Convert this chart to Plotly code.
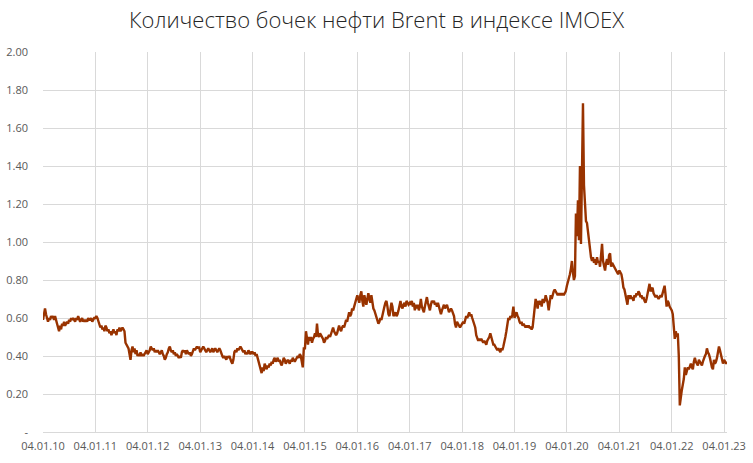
import pandas as pd
import plotly.graph_objects as go

title_text = "Количество бочек нефти Brent в индексе IMOEX"

# weekly readings of the ratio, one list per year (weeks counted from 4 January)
y2010 = [0.59, 0.63, 0.65, 0.62, 0.59, 0.58, 0.60, 0.59, 0.61, 0.60, 0.61, 0.59,
         0.61, 0.58, 0.57, 0.55, 0.53, 0.56, 0.54, 0.57, 0.56, 0.58, 0.56, 0.57,
         0.58, 0.57, 0.59, 0.58, 0.60, 0.59, 0.60, 0.59, 0.58, 0.60, 0.59, 0.61,
         0.59, 0.58, 0.59, 0.60, 0.58, 0.59, 0.58, 0.59, 0.58, 0.60, 0.59, 0.59,
         0.60, 0.58, 0.59, 0.60]
y2011 = [0.60, 0.61, 0.60, 0.58, 0.57, 0.55, 0.56, 0.54, 0.55, 0.53, 0.56, 0.55,
         0.53, 0.54, 0.52, 0.53, 0.51, 0.53, 0.54, 0.52, 0.53, 0.51, 0.54, 0.53,
         0.55, 0.53, 0.54, 0.55, 0.54, 0.53, 0.47, 0.46, 0.45, 0.44, 0.41, 0.38,
         0.43, 0.45, 0.42, 0.44, 0.41, 0.43, 0.40, 0.41, 0.40, 0.42, 0.40, 0.41,
         0.40, 0.41, 0.42, 0.43]
y2012 = [0.41, 0.42, 0.43, 0.45, 0.44, 0.43, 0.44, 0.42, 0.43, 0.42, 0.43, 0.42,
         0.41, 0.42, 0.43, 0.41, 0.40, 0.38, 0.39, 0.41, 0.42, 0.44, 0.45, 0.43,
         0.42, 0.43, 0.41, 0.42, 0.40, 0.41, 0.40, 0.39, 0.40, 0.39, 0.42, 0.43,
         0.42, 0.43, 0.41, 0.43, 0.42, 0.41, 0.42, 0.40, 0.41, 0.43, 0.44, 0.43,
         0.44, 0.45, 0.44, 0.45]
y2013 = [0.42, 0.43, 0.44, 0.45, 0.44, 0.43, 0.42, 0.43, 0.44, 0.43, 0.42, 0.43,
         0.44, 0.42, 0.43, 0.44, 0.43, 0.42, 0.43, 0.44, 0.43, 0.41, 0.40, 0.39,
         0.40, 0.39, 0.38, 0.40, 0.39, 0.40, 0.38, 0.37, 0.36, 0.38, 0.42, 0.43,
         0.42, 0.44, 0.43, 0.44, 0.45, 0.44, 0.43, 0.42, 0.43, 0.41, 0.42, 0.41,
         0.43, 0.42, 0.41, 0.42]
y2014 = [0.42, 0.41, 0.42, 0.40, 0.41, 0.39, 0.37, 0.35, 0.33, 0.31, 0.34, 0.32,
         0.36, 0.34, 0.33, 0.35, 0.34, 0.36, 0.35, 0.37, 0.36, 0.38, 0.39, 0.37,
         0.38, 0.39, 0.37, 0.38, 0.36, 0.35, 0.37, 0.39, 0.38, 0.36, 0.37, 0.38,
         0.37, 0.36, 0.38, 0.37, 0.39, 0.38, 0.37, 0.38, 0.39, 0.40, 0.39, 0.41,
         0.40, 0.36, 0.34, 0.44]
y2015 = [0.44, 0.53, 0.50, 0.46, 0.50, 0.48, 0.50, 0.47, 0.49, 0.50, 0.52, 0.50,
         0.57, 0.51, 0.50, 0.52, 0.51, 0.50, 0.49, 0.47, 0.48, 0.50, 0.49, 0.50,
         0.51, 0.50, 0.52, 0.53, 0.55, 0.53, 0.52, 0.51, 0.52, 0.54, 0.56, 0.54,
         0.53, 0.55, 0.56, 0.55, 0.57, 0.59, 0.58, 0.60, 0.63, 0.61, 0.62, 0.65,
         0.64, 0.66, 0.68, 0.71]
y2016 = [0.72, 0.70, 0.68, 0.72, 0.74, 0.69, 0.66, 0.72, 0.70, 0.67, 0.70, 0.73,
         0.70, 0.68, 0.72, 0.67, 0.65, 0.64, 0.62, 0.60, 0.58, 0.57, 0.58, 0.60,
         0.59, 0.62, 0.63, 0.66, 0.68, 0.69, 0.66, 0.62, 0.61, 0.64, 0.68, 0.66,
         0.61, 0.62, 0.63, 0.61, 0.62, 0.64, 0.68, 0.69, 0.66, 0.65, 0.67, 0.68,
         0.66, 0.69, 0.68, 0.67]
y2017 = [0.68, 0.67, 0.69, 0.66, 0.68, 0.64, 0.67, 0.65, 0.67, 0.64, 0.66, 0.70,
         0.66, 0.64, 0.63, 0.66, 0.70, 0.71, 0.68, 0.65, 0.64, 0.67, 0.69, 0.68,
         0.69, 0.67, 0.68, 0.66, 0.68, 0.66, 0.63, 0.62, 0.64, 0.66, 0.67, 0.65,
         0.66, 0.67, 0.65, 0.63, 0.64, 0.65, 0.64, 0.62, 0.61, 0.57, 0.55, 0.58,
         0.57, 0.56, 0.55, 0.56]
y2018 = [0.57, 0.58, 0.57, 0.59, 0.61, 0.60, 0.62, 0.63, 0.61, 0.62, 0.60, 0.58,
         0.56, 0.55, 0.51, 0.49, 0.48, 0.49, 0.48, 0.49, 0.48, 0.47, 0.48, 0.47,
         0.46, 0.48, 0.49, 0.50, 0.52, 0.50, 0.47, 0.46, 0.46, 0.45, 0.44, 0.43,
         0.44, 0.43, 0.42, 0.44, 0.43, 0.45, 0.47, 0.50, 0.53, 0.58, 0.60, 0.59,
         0.61, 0.60, 0.62, 0.66]
y2019 = [0.60, 0.62, 0.63, 0.61, 0.60, 0.58, 0.57, 0.58, 0.56, 0.57, 0.56, 0.55,
         0.56, 0.55, 0.56, 0.55, 0.55, 0.54, 0.55, 0.59, 0.66, 0.70, 0.68, 0.65,
         0.69, 0.67, 0.69, 0.66, 0.70, 0.68, 0.69, 0.72, 0.70, 0.68, 0.64, 0.70,
         0.72, 0.70, 0.73, 0.74, 0.75, 0.74, 0.73, 0.72, 0.73, 0.72, 0.73, 0.72,
         0.73, 0.72, 0.73, 0.74]
y2020 = [0.77, 0.79, 0.80, 0.83, 0.86, 0.90, 0.84, 0.80, 0.82, 1.15, 1.03, 1.22,
         1.01, 1.40, 0.99, 1.29, 1.73, 1.30, 1.18, 1.11, 1.10, 1.05, 1.02, 0.94,
         0.92, 0.90, 0.92, 0.89, 0.91, 0.88, 0.92, 0.89, 0.90, 0.87, 0.93, 0.99,
         0.90, 0.88, 0.85, 0.89, 0.91, 0.88, 0.93, 0.94, 0.87, 0.89, 0.88, 0.87,
         0.86, 0.85, 0.84, 0.83]
y2021 = [0.85, 0.84, 0.83, 0.80, 0.76, 0.75, 0.72, 0.68, 0.67, 0.72, 0.70, 0.72,
         0.70, 0.71, 0.69, 0.72, 0.71, 0.73, 0.72, 0.74, 0.73, 0.71, 0.72, 0.70,
         0.71, 0.69, 0.68, 0.70, 0.73, 0.75, 0.78, 0.74, 0.75, 0.76, 0.73, 0.72,
         0.71, 0.72, 0.71, 0.70, 0.71, 0.72, 0.71, 0.73, 0.74, 0.77, 0.72, 0.66,
         0.69, 0.68, 0.66, 0.65]
y2022 = [0.64, 0.62, 0.55, 0.49, 0.53, 0.50, 0.52, 0.40, 0.14, 0.20, 0.22, 0.25,
         0.28, 0.34, 0.30, 0.32, 0.34, 0.33, 0.35, 0.36, 0.34, 0.33, 0.37, 0.39,
         0.37, 0.36, 0.35, 0.38, 0.37, 0.36, 0.35, 0.37, 0.39, 0.40, 0.41, 0.44,
         0.42, 0.41, 0.39, 0.36, 0.34, 0.33, 0.38, 0.36, 0.37, 0.39, 0.42, 0.45,
         0.43, 0.40, 0.38, 0.36]
y2023 = [0.38, 0.37, 0.36, 0.37]

yearly = {2010: y2010, 2011: y2011, 2012: y2012, 2013: y2013, 2014: y2014,
          2015: y2015, 2016: y2016, 2017: y2017, 2018: y2018, 2019: y2019,
          2020: y2020, 2021: y2021, 2022: y2022, 2023: y2023}

x_tickvals = [f"{yr}-01-04" for yr in range(2010, 2024)]
x_ticktext = [f"04.01.{yr % 100:02d}" for yr in range(2010, 2024)]
y_tickvals = [0, 0.2, 0.4, 0.6, 0.8, 1.0, 1.2, 1.4, 1.6, 1.8, 2.0]
y_ticktext = ["-", "0.20", "0.40", "0.60", "0.80", "1.00", "1.20", "1.40", "1.60", "1.80", "2.00"]

frames = []
for yr, vals in yearly.items():
    frames.append(pd.DataFrame({
        "date": pd.date_range(f"{yr}-01-04", periods=len(vals), freq="7D"),
        "ratio": vals,
    }))
df = pd.concat(frames, ignore_index=True)

fig = go.Figure()
fig.add_trace(go.Scatter(
    x=df["date"], y=df["ratio"],
    mode="lines",
    line=dict(color="#993300", width=2.4),
    showlegend=False,
))

grid = "#d9d9d9"
tick_font = dict(family="Open Sans, sans-serif", size=11, color="#595959")

fig.update_xaxes(
    type="date",
    range=["2010-01-04", "2023-01-24"],
    tickvals=x_tickvals, ticktext=x_ticktext,
    showgrid=True, gridcolor=grid, gridwidth=1,
    zeroline=False, showline=False, ticks="",
    tickfont=tick_font, ticklabelstandoff=6, automargin=False,
)
fig.update_yaxes(
    range=[0, 2],
    tickvals=y_tickvals, ticktext=y_ticktext,
    showgrid=True, gridcolor=grid, gridwidth=1,
    zeroline=True, zerolinecolor=grid, zerolinewidth=1,
    showline=False, ticks="",
    tickfont=tick_font, ticklabelstandoff=14, automargin=False,
)

fig.update_layout(
    width=753, height=463,
    margin=dict(l=43, r=26, t=52, b=31),
    paper_bgcolor="white", plot_bgcolor="white",
    title=dict(
        text=title_text,
        x=0.5, xanchor="center",
        y=1 - 20 / 463, yanchor="middle",
        automargin=False,
        font=dict(family="Open Sans, sans-serif", size=22, color="#262626", weight=300),
    ),
)

# the page body has a default 8px margin; drop it so the figure sits at the window corner
fig.write_html("out.html", config={"displayModeBar": False},
               post_script="document.body.style.margin = '0';")
